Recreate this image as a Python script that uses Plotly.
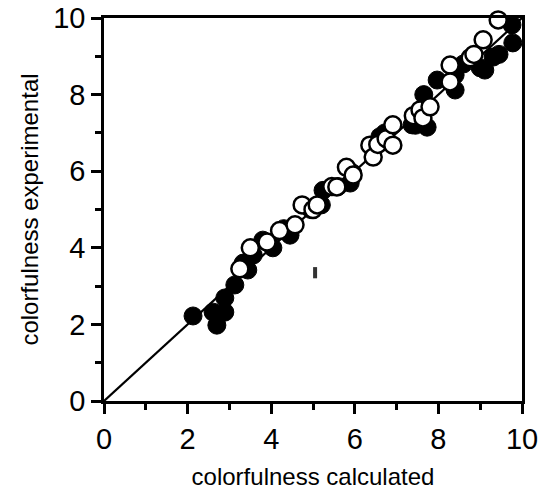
import plotly.graph_objects as go

# black (filled) series
black_x = [2.13, 2.61, 2.70, 2.89, 2.89, 3.13, 3.33, 3.44, 3.57, 3.80, 4.04, 4.30, 4.45,
           4.95, 5.20, 5.24, 5.60, 5.89, 5.95, 6.60, 6.72, 7.37, 7.45, 7.65, 7.73,
           7.97, 8.40, 8.40, 8.60, 9.00, 9.11, 9.31, 9.45, 9.76, 9.78]
black_y = [2.22, 2.32, 1.98, 2.32, 2.69, 3.03, 3.60, 3.42, 3.81, 4.20, 4.00, 4.50, 4.33,
           5.00, 5.12, 5.50, 5.60, 5.69, 5.95, 6.90, 7.00, 7.21, 7.20, 8.00, 7.15,
           8.38, 8.12, 8.51, 8.80, 8.70, 8.64, 8.98, 9.05, 9.82, 9.35]

# white (open) series
white_x = [3.25, 3.50, 3.90, 4.20, 4.57, 4.74, 5.00, 5.10, 5.45, 5.57, 5.80, 5.96,
           6.36, 6.44, 6.55, 6.75, 6.91, 6.91, 7.40, 7.56, 7.63, 7.80,
           8.28, 8.28, 8.76, 8.85, 9.07, 9.43]
white_y = [3.45, 4.00, 4.15, 4.45, 4.60, 5.12, 5.00, 5.12, 5.60, 5.59, 6.10, 5.90,
           6.68, 6.37, 6.70, 6.85, 7.21, 6.68, 7.45, 7.60, 7.39, 7.68,
           8.77, 8.33, 8.96, 9.05, 9.43, 9.95]

line_x = [0, 10]
line_y = [0, 10]

artifact_x = [5.05]
artifact_y = [3.35]

xticks = [0, 2, 4, 6, 8, 10]
yticks = [0, 2, 4, 6, 8, 10]

FONT = "Liberation Sans, Arial, Helvetica, sans-serif"

fig = go.Figure()
fig.add_trace(go.Scatter(x=line_x, y=line_y, mode="lines",
                         line=dict(color="black", width=2.2), showlegend=False))
fig.add_trace(go.Scatter(x=artifact_x, y=artifact_y, mode="markers",
                         marker=dict(symbol="line-ns", size=8,
                                     line=dict(color="#333333", width=4)),
                         showlegend=False))
fig.add_trace(go.Scatter(x=black_x, y=black_y, mode="markers",
                         marker=dict(size=18, color="black",
                                     line=dict(color="black", width=1)),
                         cliponaxis=False, showlegend=False))
fig.add_trace(go.Scatter(x=white_x, y=white_y, mode="markers",
                         marker=dict(size=17, color="white",
                                     line=dict(color="black", width=2.5)),
                         cliponaxis=False, showlegend=False))

axis_common = dict(
    range=[0, 10], showgrid=False, zeroline=False, automargin=False,
    showline=True, linecolor="black", linewidth=2.5, mirror=True,
    ticks="outside", ticklen=10, tickwidth=2.5, tickcolor="black",
    tickfont=dict(family=FONT, size=29, color="black"),
    minor=dict(dtick=1, ticks="outside", ticklen=6, tickwidth=2.5, tickcolor="black"),
)

fig.update_layout(
    width=548, height=495,
    margin=dict(l=104, r=26, t=18, b=94),
    paper_bgcolor="white", plot_bgcolor="white",
    xaxis=dict(axis_common, tickvals=xticks,
               title=dict(text="colorfulness calculated", standoff=15,
                          font=dict(family=FONT, size=24, color="black"))),
    yaxis=dict(axis_common, tickvals=yticks,
               title=dict(text="colorfulness experimental", standoff=8,
                          font=dict(family=FONT, size=24, color="black"))),
)

fig.write_html("out.html")
